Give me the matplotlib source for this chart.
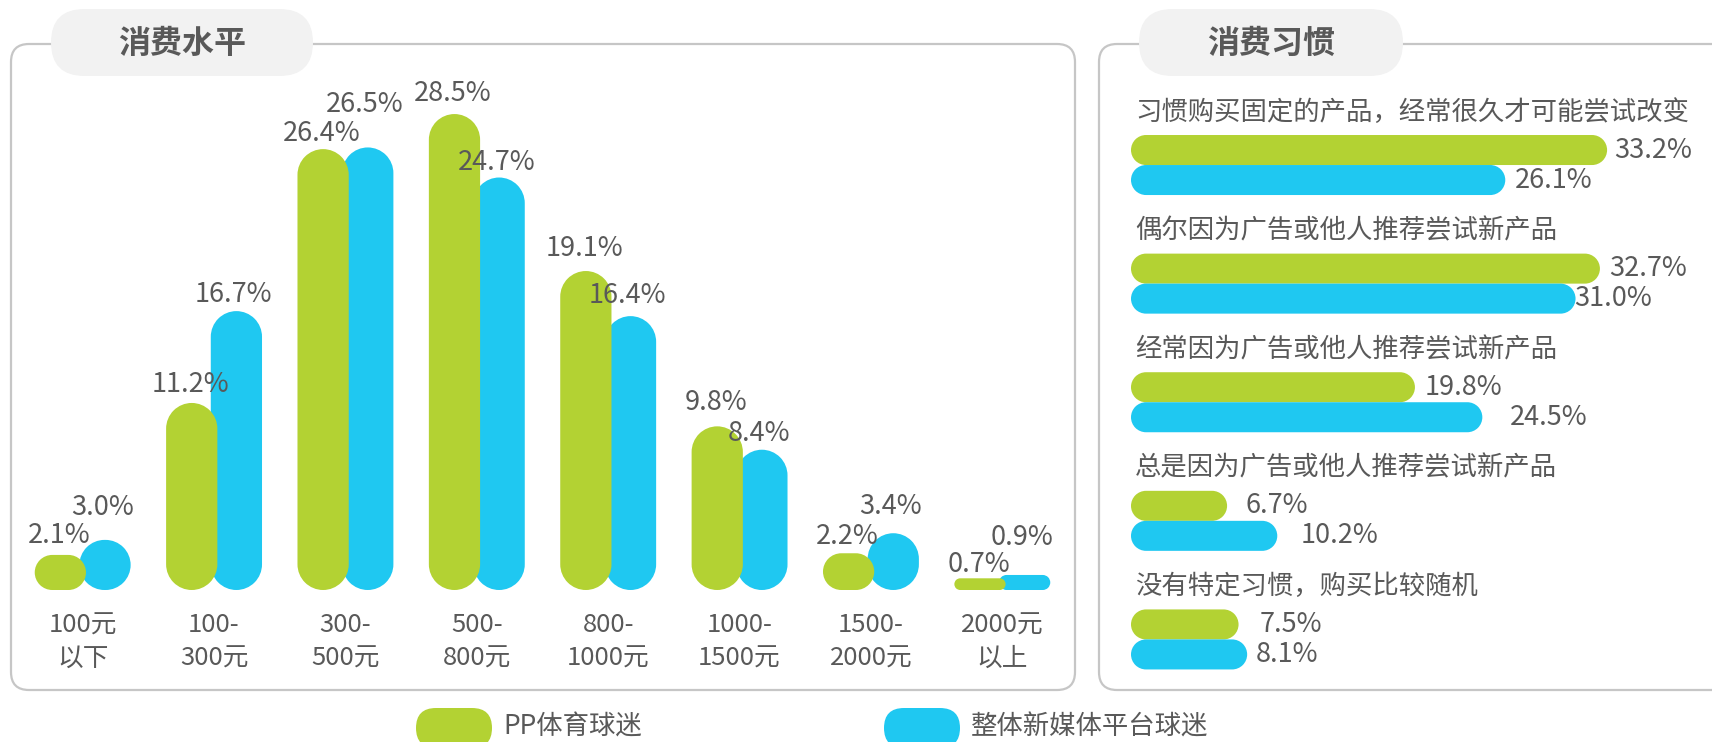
import matplotlib
matplotlib.use("Agg")
import matplotlib.pyplot as plt
from matplotlib.path import Path
from matplotlib.patches import PathPatch, FancyBboxPatch

plt.rcParams['font.family'] = ['Noto Sans CJK SC', 'DejaVu Sans']

# ---- data -------------------------------------------------------------
price_bands = ["100元\n以下", "100-\n300元", "300-\n500元", "500-\n800元",
               "800-\n1000元", "1000-\n1500元", "1500-\n2000元", "2000元\n以上"]
pp_spend = [2.1, 11.2, 26.4, 28.5, 19.1, 9.8, 2.2, 0.7]
all_spend = [3.0, 16.7, 26.5, 24.7, 16.4, 8.4, 3.4, 0.9]

habits = ["习惯购买固定的产品，经常很久才可能尝试改变",
          "偶尔因为广告或他人推荐尝试新产品",
          "经常因为广告或他人推荐尝试新产品",
          "总是因为广告或他人推荐尝试新产品",
          "没有特定习惯，购买比较随机"]
pp_habit = [33.2, 32.7, 19.8, 6.7, 7.5]
all_habit = [26.1, 31.0, 24.5, 10.2, 8.1]

series_names = ["PP体育球迷", "整体新媒体平台球迷"]
panel_titles = ["消费水平", "消费习惯"]

# ---- styling ------------------------------------------------------------
GREEN = "#b3d233"
BLUE = "#1fc8f1"
TEXT = "#595959"
FRAME = "#c6c6c6"
PILL_BG = "#f2f2f2"

# label nudges (points) so neighbouring value labels don't collide
spend_dy_pp = [14, 13, 11, 15, 16, 17, 12, 10]
spend_dy_all = [23, 12, 31, 11, 15, 12, 19, 27]
habit_dx_pp = [5, 7, 7, 13, 15]
habit_dx_all = [7, -1, 20, 17, 6]

W, H = 1712, 742
fig = plt.figure(figsize=(W / 100, H / 100), dpi=100)


def pill(ax, x0, x1, y0, y1, color, zorder):
    """Rounded bar whose corner radius is half its shorter on-screen side."""
    x0, x1 = min(x0, x1), max(x0, x1)
    y0, y1 = min(y0, y1), max(y0, y1)
    (ax0, ay0), (ax1, ay1) = ax.transData.transform([(0, 0), (1, 1)])
    sx, sy = abs(ax1 - ax0), abs(ay1 - ay0)
    r = min((x1 - x0) * sx, (y1 - y0) * sy) / 2
    rx, ry = r / sx, r / sy
    corners = [(x1 - rx, y0 + ry, 270, 360), (x1 - rx, y1 - ry, 0, 90),
               (x0 + rx, y1 - ry, 90, 180), (x0 + rx, y0 + ry, 180, 270)]
    verts, codes = [], []
    for i, (cx, cy, t1, t2) in enumerate(corners):
        a = Path.arc(t1, t2)
        v = a.vertices * [rx, ry] + [cx, cy]
        c = list(a.codes)
        c[0] = Path.MOVETO if i == 0 else Path.LINETO
        verts.extend(v.tolist())
        codes.extend(c)
    verts.append(verts[0])
    codes.append(Path.CLOSEPOLY)
    ax.add_patch(PathPatch(Path(verts, codes), facecolor=color,
                           edgecolor="none", zorder=zorder))


# ---- background layer in pixel units: frames, titles, legend -------------
bg = fig.add_axes([0, 0, 1, 1], zorder=0)
bg.set_xlim(0, W)
bg.set_ylim(H, 0)
bg.axis("off")

for (x0, x1) in [(11, 1075), (1099, 1730)]:
    bg.add_patch(FancyBboxPatch((x0, 44), x1 - x0, 646,
                                boxstyle="round,pad=0,rounding_size=18",
                                facecolor="none", edgecolor=FRAME, lw=1.6))

for title, (x0, x1) in zip(panel_titles, [(51, 313), (1139, 1403)]):
    bg.add_patch(FancyBboxPatch((x0, 9), x1 - x0, 67,
                                boxstyle="round,pad=0,rounding_size=33.5",
                                facecolor=PILL_BG, edgecolor="none"))
    bg.text((x0 + x1) / 2, 44, title, ha="center", va="center",
            fontsize=23, fontweight="bold", color=TEXT)

for name, color, x0 in zip(series_names, [GREEN, BLUE], [416, 884]):
    bg.add_patch(FancyBboxPatch((x0, 708), 76, 40,
                                boxstyle="round,pad=0,rounding_size=20",
                                facecolor=color, edgecolor="none"))
    bg.text(x0 + 87, 727, name, ha="left", va="center",
            fontsize=19, color=TEXT)

# ---- left panel: spending level ----------------------------------------
ax1 = fig.add_axes([17 / W, (H - 590) / H, 1051 / W, 501 / H], zorder=1)
ax1.set_xlim(-0.5, len(price_bands) - 0.5)
ax1.set_ylim(0, 30)
ax1.axis("off")

off, bw = 0.17, 0.39
for i, (g, b) in enumerate(zip(pp_spend, all_spend)):
    pill(ax1, i + off - bw / 2, i + off + bw / 2, 0, b, BLUE, 2)
    pill(ax1, i - off - bw / 2, i - off + bw / 2, 0, g, GREEN, 3)
    ax1.annotate(f"{b:.1f}%", (i + off, b), xytext=(-2, spend_dy_all[i]),
                 textcoords="offset points", ha="center", va="center",
                 fontsize=19.5, color=TEXT, zorder=5)
    ax1.annotate(f"{g:.1f}%", (i - off, g), xytext=(-1, spend_dy_pp[i]),
                 textcoords="offset points", ha="center", va="center",
                 fontsize=19.5, color=TEXT, zorder=5)
    ax1.annotate(price_bands[i], (i, 0), xytext=(0, -37.5),
                 textcoords="offset points", ha="center", va="center",
                 fontsize=18.5, color=TEXT, linespacing=1.38)

# ---- right panel: purchase habits --------------------------------------
ax2 = fig.add_axes([1131 / W, (H - 710.6) / H, 573.6 / W, 628.6 / H], zorder=1)
ax2.set_xlim(0, 40)
ax2.set_ylim(4.6, -0.7)
ax2.axis("off")

bh = 0.253
for i, (g, b) in enumerate(zip(pp_habit, all_habit)):
    pill(ax2, 0, g, i - bh, i, GREEN, 2)
    pill(ax2, 0, b, i, i + bh, BLUE, 3)
    ax2.annotate(habits[i], (0, i - 0.443), xytext=(3, 0),
                 textcoords="offset points", ha="left", va="center",
                 fontsize=19, color=TEXT)
    ax2.annotate(f"{g:.1f}%", (g, i - bh / 2), xytext=(habit_dx_pp[i], 0),
                 textcoords="offset points", ha="left", va="center",
                 fontsize=19.5, color=TEXT, zorder=5)
    ax2.annotate(f"{b:.1f}%", (b, i + bh / 2), xytext=(habit_dx_all[i], 0),
                 textcoords="offset points", ha="left", va="center",
                 fontsize=19.5, color=TEXT, zorder=5)

fig.savefig("out.png", dpi=100)
